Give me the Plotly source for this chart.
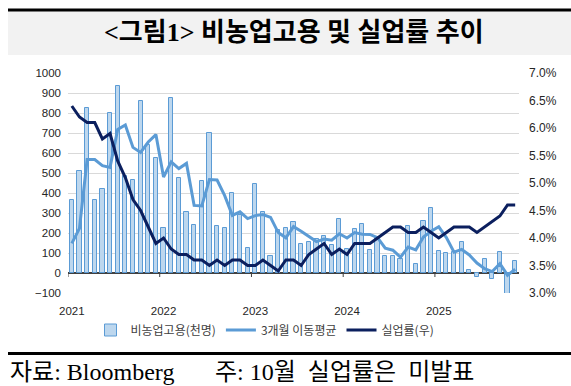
import plotly.graph_objects as go

# ---------------- data ----------------
months = [f"{y}-{m:02d}" for y in range(2021, 2026) for m in range(1, 13)][:59]  # Jan 2021 .. Nov 2025

nfp = [365, 510, 827, 365, 420, 798, 935, 485, 465, 860, 640, 577,
       223, 873, 473, 305, 240, 460, 700, 235, 227, 400, 290, 127,
       445, 305, 85, 215, 225, 257, 145, 155, 171, 183, 138, 268,
       118, 220, 243, 115, 173, 85, 85, 68, 237, 43, 260, 323,
       110, 98, 103, 153, 15, -18, 68, -30, 103, -107, 60]

ma3 = [148, 223, 567, 567, 537, 528, 718, 740, 628, 603, 655, 692,
       480, 556, 522, 548, 338, 335, 467, 465, 387, 288, 306, 272,
       287, 292, 278, 202, 176, 232, 209, 185, 157, 170, 164, 196,
       175, 202, 194, 193, 177, 124, 114, 79, 130, 116, 180, 209,
       231, 177, 104, 118, 90, 50, 22, 7, 47, -11, 19]

unemp = [6.4, 6.2, 6.1, 6.1, 5.8, 5.9, 5.4, 5.1, 4.7, 4.5, 4.2, 3.9,
         4.0, 3.8, 3.7, 3.7, 3.6, 3.6, 3.5, 3.6, 3.5, 3.6, 3.6, 3.5,
         3.5, 3.6, 3.5, 3.4, 3.6, 3.6, 3.5, 3.7, 3.8, 3.9, 3.7, 3.8,
         3.7, 3.9, 3.9, 3.9, 4.0, 4.1, 4.2, 4.2, 4.1, 4.1, 4.2, 4.1,
         4.0, 4.1, 4.2, 4.2, 4.2, 4.1, 4.2, 4.3, 4.4, 4.6, 4.6]

year_labels = ["2021", "2022", "2023", "2024", "2025"]
left_ticks = list(range(-100, 1001, 100))
right_ticks = [3.0, 3.5, 4.0, 4.5, 5.0, 5.5, 6.0, 6.5, 7.0]

names = ["비농업고용(천명)", "3개월 이동평균", "실업률(우)"]
title_text = "&lt;그림1&gt; 비농업고용 및 실업률 추이"
source_text = "자료: Bloomberg"
note_text = "주: 10월\u00a0 실업률은\u00a0 미발표"

# ---------------- layout geometry ----------------
W, H = 571, 386
ML, MR, MT, MB = 68, 52, 73, 93
PW, PH = W - ML - MR, H - MT - MB


def px(x):
    return (x - ML) / PW


def py(y):
    return (H - MB - y) / PH


idx = list(range(len(months)))

fig = go.Figure()
fig.add_trace(go.Bar(
    x=idx, y=nfp, name=names[0], width=0.55,
    marker=dict(color="#BDD7EE", line=dict(color="#5B9BD5", width=1)),
))
fig.add_trace(go.Scatter(
    x=idx, y=ma3, name=names[1], mode="lines",
    line=dict(color="#5B9BD5", width=3),
))
fig.add_trace(go.Scatter(
    x=idx, y=unemp, name=names[2], mode="lines", yaxis="y2",
    line=dict(color="#0B1F5E", width=3),
))

tick_font = dict(family="Arial, Liberation Sans, sans-serif", size=11.5, color="#262626")

fig.update_layout(
    width=W, height=H,
    margin=dict(l=ML, r=MR, t=MT, b=MB, pad=0),
    paper_bgcolor="white", plot_bgcolor="white",
    bargap=0,
    showlegend=True,
    legend=dict(orientation="h", x=px(265), xanchor="center", y=py(330), yanchor="middle",
                font=dict(family="Noto Sans CJK KR, sans-serif", size=12, color="#404040"),
                bgcolor="rgba(0,0,0,0)", itemwidth=30, tracegroupgap=0),
    xaxis=dict(range=[-0.5, len(months) - 0.5], tickvals=[12 * k for k in range(len(year_labels))],
               ticktext=year_labels, showgrid=False, zeroline=False, ticks="",
               showline=False, tickfont=tick_font, ticklabelstandoff=9),
    yaxis=dict(range=[left_ticks[0], left_ticks[-1]], tickvals=left_ticks, showgrid=True,
               gridcolor="#D9D9D9", gridwidth=1, zeroline=True, zerolinecolor="#404040",
               zerolinewidth=1.5, ticks="", tickfont=tick_font, ticklabelstandoff=6),
    yaxis2=dict(range=[right_ticks[0], right_ticks[-1]], tickvals=right_ticks, ticktext=[f"{v:.1f}%" for v in right_ticks],
                overlaying="y", side="right", showgrid=False, zeroline=False, ticks="",
                tickfont=dict(family="Arial, Liberation Sans, sans-serif", size=12, color="#262626"),
                ticklabelstandoff=9),
)

shapes = [
    dict(type="rect", xref="paper", yref="paper", x0=px(8), x1=px(W + 5), y0=py(55), y1=py(11),
         fillcolor="#F2F2F2", line=dict(width=0), layer="below"),
    dict(type="line", xref="paper", yref="paper", x0=px(8), x1=px(W + 5), y0=py(10), y1=py(10),
         line=dict(color="black", width=3)),
    dict(type="line", xref="paper", yref="paper", x0=px(8), x1=px(W + 5), y0=py(353.5), y1=py(353.5),
         line=dict(color="black", width=3)),
]
# small tick marks on the zero line at year boundaries
for k in range(len(year_labels)):
    shapes.append(dict(type="line", xref="x", yref="y", x0=12 * k - 0.5, x1=12 * k - 0.5, y0=0, y1=-20,
                       line=dict(color="#404040", width=1)))
fig.update_layout(shapes=shapes)

fig.add_annotation(text=title_text, xref="paper", yref="paper", x=px(294), y=py(33),
                   xanchor="center", yanchor="middle", showarrow=False,
                   font=dict(family="Liberation Serif, Noto Sans CJK KR, serif", size=26, color="black",
                             weight="bold"))
fig.add_annotation(text=source_text, xref="paper", yref="paper", x=px(8), y=py(372),
                   xanchor="left", yanchor="middle", showarrow=False,
                   font=dict(family="Liberation Serif, Noto Sans CJK KR, serif", size=24, color="black"))
fig.add_annotation(text=note_text, xref="paper", yref="paper", x=px(213), y=py(372),
                   xanchor="left", yanchor="middle", showarrow=False,
                   font=dict(family="Liberation Serif, Noto Sans CJK KR, serif", size=24, color="black"))

fig.write_html("out.html", config={"displayModeBar": False},
               post_script="document.body.style.margin='0';document.body.style.overflow='hidden';")
